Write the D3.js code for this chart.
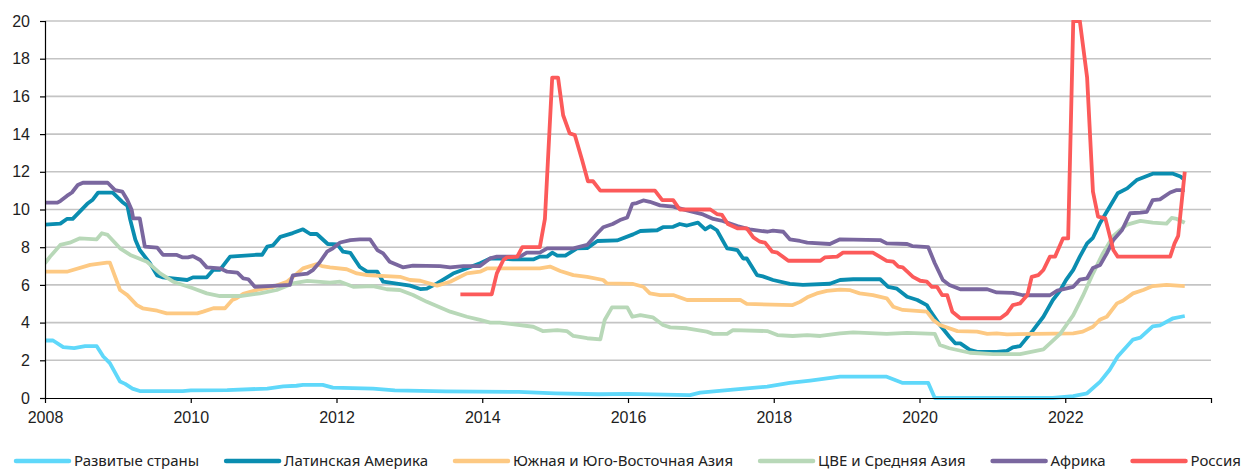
<!DOCTYPE html>
<html>
<head>
<meta charset="utf-8">
<script src="https://cdn.jsdelivr.net/npm/d3@7"></script>
<style>
  html, body { margin: 0; padding: 0; background: #fff; overflow: hidden; }
  svg { display: block; font-family: "Noto Sans", "DejaVu Sans", sans-serif; }
  .axis text { fill: #1e1e1e; font-size: 16px; }
  .axis path, .axis line { stroke: #000; stroke-width: 1.2; }
  .grid line { stroke: #c4c4c4; stroke-width: 1.6; }
  .legend text { fill: #222; font-size: 15px; }
</style>
</head>
<body>
<svg id="chart" width="1249" height="469"></svg>
<script>
// Key policy rates by region, % (decimal years on the time axis)
const seriesNames = ["Развитые страны", "Латинская Америка", "Южная и Юго-Восточная Азия",
                     "ЦВЕ и Средняя Азия", "Африка", "Россия"];
const seriesColors = ["#5fd8fa", "#0a8db0", "#fdc983", "#b8d8b8", "#7a679f", "#fc5a5a"];

const yTicks = [0, 2, 4, 6, 8, 10, 12, 14, 16, 18, 20];
const xTicks = [2008, 2010, 2012, 2014, 2016, 2018, 2020, 2022, 2024];
const xTickLabels = ["2008", "2010", "2012", "2014", "2016", "2018", "2020", "2022", ""];

const devYears = [2008.00,2008.11,2008.25,2008.40,2008.55,2008.71,2008.80,2008.89,2009.03,2009.10,2009.20,2009.30,2009.89,2010.00,2010.50,2011.05,2011.27,2011.45,2011.54,2011.81,2011.95,2012.50,2012.80,2013.50,2014.50,2015.00,2015.60,2016.00,2016.85,2016.99,2017.44,2017.91,2018.22,2018.50,2018.91,2019.55,2019.77,2020.12,2020.21,2021.83,2022.11,2022.30,2022.48,2022.61,2022.72,2022.93,2023.03,2023.20,2023.30,2023.48,2023.64];
const devValues = [3.05,3.05,2.7,2.65,2.75,2.75,2.2,1.85,0.87,0.75,0.5,0.37,0.37,0.4,0.42,0.5,0.62,0.65,0.7,0.7,0.55,0.5,0.4,0.35,0.32,0.25,0.2,0.22,0.15,0.28,0.45,0.6,0.8,0.92,1.13,1.13,0.8,0.8,0,0,0.1,0.25,0.87,1.5,2.2,3.1,3.2,3.8,3.85,4.23,4.35];

const latYears = [2008.00,2008.21,2008.30,2008.38,2008.58,2008.65,2008.73,2008.93,2009.06,2009.13,2009.17,2009.24,2009.30,2009.44,2009.54,2009.62,2009.95,2010.03,2010.22,2010.31,2010.40,2010.54,2010.91,2010.98,2011.05,2011.13,2011.23,2011.40,2011.54,2011.64,2011.73,2011.88,2012.01,2012.09,2012.19,2012.32,2012.42,2012.56,2012.64,2012.78,2013.01,2013.15,2013.24,2013.38,2013.60,2013.79,2013.97,2014.11,2014.24,2014.42,2014.70,2014.79,2014.89,2014.96,2015.03,2015.14,2015.30,2015.44,2015.58,2015.85,2016.07,2016.17,2016.40,2016.48,2016.62,2016.71,2016.81,2016.96,2017.06,2017.13,2017.22,2017.36,2017.43,2017.50,2017.58,2017.63,2017.77,2017.85,2017.99,2018.22,2018.40,2018.77,2018.91,2019.09,2019.46,2019.57,2019.69,2019.83,2019.97,2020.10,2020.14,2020.28,2020.41,2020.49,2020.56,2020.69,2020.79,2021.06,2021.20,2021.28,2021.38,2021.56,2021.70,2021.83,2021.93,2022.01,2022.11,2022.20,2022.30,2022.38,2022.48,2022.61,2022.72,2022.85,2022.98,2023.20,2023.48,2023.58,2023.64];
const latValues = [9.2,9.25,9.5,9.5,10.3,10.5,10.9,10.9,10.4,10.2,9.45,8.4,7.85,7.15,6.5,6.4,6.26,6.4,6.4,6.8,6.8,7.5,7.6,7.6,8.03,8.1,8.55,8.75,8.95,8.7,8.7,8.17,8.15,7.76,7.7,6.95,6.7,6.7,6.17,6.1,5.96,5.78,5.8,6.08,6.6,6.88,7.15,7.4,7.4,7.36,7.35,7.5,7.5,7.71,7.55,7.55,7.94,7.95,8.33,8.36,8.68,8.86,8.9,9.06,9.08,9.23,9.15,9.3,8.95,9.12,8.9,7.94,7.9,7.85,7.4,7.4,6.52,6.45,6.26,6.05,6.0,6.06,6.26,6.3,6.3,5.9,5.8,5.37,5.2,4.93,4.67,3.87,3.25,2.9,2.9,2.55,2.45,2.45,2.5,2.69,2.75,3.6,4.31,5.2,5.7,6.25,6.8,7.5,8.2,8.5,9.3,10.15,10.86,11.12,11.56,11.9,11.9,11.75,11.56];

const seaYears = [2008.00,2008.30,2008.62,2008.85,2008.89,2009.03,2009.13,2009.26,2009.34,2009.54,2009.67,2010.09,2010.17,2010.31,2010.47,2010.57,2010.63,2010.72,2010.91,2011.13,2011.32,2011.46,2011.54,2011.73,2011.80,2011.91,2012.14,2012.28,2012.42,2012.87,2013.01,2013.15,2013.38,2013.56,2013.79,2013.97,2014.07,2014.79,2014.93,2015.07,2015.25,2015.44,2015.66,2015.71,2016.07,2016.21,2016.30,2016.44,2016.62,2016.81,2017.54,2017.63,2018.26,2018.36,2018.46,2018.59,2018.73,2018.91,2019.05,2019.18,2019.36,2019.55,2019.64,2019.77,2020.10,2020.19,2020.28,2020.52,2020.79,2020.93,2021.06,2021.20,2022.11,2022.24,2022.38,2022.48,2022.57,2022.71,2022.79,2022.93,2023.07,2023.20,2023.39,2023.64];
const seaValues = [6.7,6.7,7.06,7.18,7.18,5.73,5.46,4.93,4.76,4.63,4.49,4.49,4.58,4.76,4.76,5.2,5.29,5.52,5.73,5.9,6.17,6.61,6.88,7.1,7.0,6.93,6.83,6.61,6.52,6.43,6.26,6.22,5.96,6.17,6.61,6.7,6.88,6.88,6.97,6.74,6.52,6.43,6.26,6.08,6.05,5.9,5.55,5.46,5.46,5.2,5.2,4.99,4.93,5.1,5.34,5.55,5.68,5.75,5.72,5.55,5.46,5.29,4.84,4.67,4.58,4.14,3.87,3.55,3.52,3.4,3.43,3.38,3.43,3.52,3.78,4.17,4.31,5.02,5.16,5.55,5.73,5.94,6.0,5.94];

const ceeYears = [2008.00,2008.07,2008.21,2008.34,2008.48,2008.71,2008.78,2008.86,2009.03,2009.17,2009.40,2009.58,2009.76,2010.03,2010.22,2010.40,2010.68,2010.95,2011.18,2011.40,2011.60,2011.91,2012.05,2012.23,2012.50,2012.69,2012.87,2013.05,2013.24,2013.56,2013.79,2013.97,2014.11,2014.24,2014.70,2014.83,2015.03,2015.16,2015.25,2015.44,2015.62,2015.68,2015.78,2015.99,2016.06,2016.17,2016.34,2016.48,2016.58,2016.81,2017.08,2017.17,2017.36,2017.44,2017.91,2018.05,2018.26,2018.46,2018.64,2018.91,2019.09,2019.55,2019.83,2020.21,2020.28,2020.41,2020.69,2021.01,2021.38,2021.70,2021.79,2021.93,2022.02,2022.11,2022.24,2022.38,2022.52,2022.66,2022.75,2022.85,2023.03,2023.20,2023.39,2023.46,2023.53,2023.64];
const ceeValues = [7.15,7.5,8.12,8.24,8.47,8.42,8.74,8.65,7.94,7.59,7.23,6.61,6.17,5.82,5.55,5.41,5.41,5.55,5.73,6.08,6.21,6.12,6.17,5.9,5.94,5.77,5.73,5.46,5.1,4.58,4.31,4.14,4.0,4.0,3.78,3.55,3.6,3.55,3.29,3.17,3.11,4.14,4.81,4.81,4.31,4.4,4.28,3.87,3.75,3.7,3.52,3.4,3.4,3.6,3.55,3.34,3.29,3.34,3.29,3.43,3.48,3.4,3.46,3.4,2.81,2.64,2.4,2.33,2.33,2.58,2.9,3.4,3.9,4.4,5.4,6.6,7.7,8.6,8.9,9.2,9.4,9.3,9.25,9.55,9.5,9.3];

const afrYears = [2008.00,2008.17,2008.21,2008.30,2008.37,2008.45,2008.52,2008.86,2008.96,2009.06,2009.13,2009.19,2009.21,2009.30,2009.37,2009.54,2009.62,2009.81,2009.89,2009.96,2010.03,2010.13,2010.22,2010.40,2010.50,2010.64,2010.72,2010.79,2010.88,2011.36,2011.40,2011.60,2011.68,2011.77,2011.87,2011.95,2012.05,2012.19,2012.32,2012.46,2012.56,2012.64,2012.73,2012.91,2013.05,2013.42,2013.56,2013.74,2013.97,2014.11,2014.20,2014.52,2014.61,2014.79,2014.89,2015.25,2015.44,2015.58,2015.66,2015.79,2015.89,2015.99,2016.06,2016.12,2016.21,2016.30,2016.44,2016.62,2016.81,2017.03,2017.17,2017.30,2017.50,2017.67,2017.91,2017.99,2018.13,2018.22,2018.36,2018.46,2018.77,2018.91,2019.46,2019.55,2019.83,2019.90,2020.12,2020.21,2020.32,2020.41,2020.56,2020.93,2021.06,2021.28,2021.42,2021.79,2021.89,2022.02,2022.11,2022.20,2022.30,2022.38,2022.48,2022.57,2022.66,2022.78,2022.89,2023.03,2023.12,2023.20,2023.30,2023.44,2023.53,2023.64];
const afrValues = [10.36,10.36,10.45,10.72,10.9,11.3,11.42,11.42,11.03,10.95,10.5,9.97,9.53,9.53,8.03,7.98,7.59,7.59,7.46,7.46,7.53,7.32,6.93,6.88,6.7,6.65,6.35,6.3,5.9,6.0,6.5,6.6,6.8,7.2,7.76,7.94,8.25,8.38,8.42,8.42,7.85,7.67,7.23,6.93,7.02,7.0,6.93,7.0,7.0,7.41,7.5,7.5,7.71,7.71,7.94,7.94,8.12,8.74,9.06,9.23,9.44,9.58,10.3,10.34,10.48,10.41,10.22,10.15,9.95,9.74,9.5,9.39,9.12,8.95,8.82,8.88,8.82,8.42,8.33,8.24,8.17,8.42,8.38,8.2,8.17,8.06,8.0,7.15,6.26,6.0,5.77,5.77,5.6,5.58,5.45,5.45,5.7,5.82,5.9,6.28,6.35,6.9,7.06,7.67,8.38,8.91,9.8,9.83,9.88,10.5,10.54,10.9,11.03,11.03];

const rusYears = [2013.70,2014.13,2014.20,2014.29,2014.34,2014.48,2014.55,2014.79,2014.86,2014.96,2015.04,2015.11,2015.20,2015.27,2015.37,2015.45,2015.52,2015.62,2016.37,2016.47,2016.62,2016.71,2017.13,2017.22,2017.29,2017.37,2017.50,2017.63,2017.72,2017.81,2017.88,2017.98,2018.05,2018.20,2018.64,2018.70,2018.87,2018.95,2019.36,2019.55,2019.64,2019.71,2019.77,2019.91,2020.01,2020.10,2020.17,2020.24,2020.31,2020.38,2020.45,2020.56,2021.11,2021.20,2021.28,2021.38,2021.48,2021.54,2021.63,2021.70,2021.79,2021.86,2021.97,2022.04,2022.11,2022.20,2022.30,2022.38,2022.45,2022.55,2022.66,2022.72,2023.44,2023.50,2023.55,2023.64];
const rusValues = [5.5,5.5,6.61,7.32,7.46,7.5,8.0,8.0,9.5,17.0,17.0,15.0,14.04,13.95,12.63,11.5,11.5,11.0,11.0,10.5,10.5,10.0,10.0,9.76,9.71,9.23,9.0,9.0,8.52,8.29,8.24,7.76,7.71,7.28,7.28,7.46,7.5,7.71,7.71,7.28,7.23,6.97,6.93,6.43,6.22,6.17,5.9,5.9,5.46,5.46,4.58,4.23,4.23,4.49,4.93,5.02,5.46,6.43,6.52,6.79,7.5,7.5,8.47,8.47,20,20,17.0,10.95,9.62,9.53,7.85,7.5,7.5,8.2,8.6,12.0];

const yearsBySeries = [devYears, latYears, seaYears, ceeYears, afrYears, rusYears];
const valuesBySeries = [devValues, latValues, seaValues, ceeValues, afrValues, rusValues];

const svg = d3.select("#chart");
const plot = { left: 45, right: 1211, top: 21, bottom: 398 };

const x = d3.scaleLinear().domain([2008, 2024]).range([plot.left, plot.right]);
const y = d3.scaleLinear().domain([0, 20]).range([plot.bottom, plot.top]);

// horizontal gridlines
svg.append("g").attr("class", "grid")
  .selectAll("line")
  .data(yTicks.filter(d => d > 0))
  .join("line")
  .attr("x1", plot.left).attr("x2", plot.right)
  .attr("y1", d => y(d)).attr("y2", d => y(d));

// clip so the peaks stay inside the plot
svg.append("defs").append("clipPath").attr("id", "plot-clip")
  .append("rect")
  .attr("x", plot.left).attr("y", plot.top - 1)
  .attr("width", plot.right - plot.left).attr("height", plot.bottom - plot.top + 3);

const line = d3.line()
  .x(d => x(d[0]))
  .y(d => y(d[1]))
  .curve(d3.curveLinear);

const lines = svg.append("g").attr("clip-path", "url(#plot-clip)");
seriesNames.forEach((name, i) => {
  const pts = d3.zip(yearsBySeries[i], valuesBySeries[i]);
  lines.append("path")
    .datum(pts)
    .attr("fill", "none")
    .attr("stroke", seriesColors[i])
    .attr("stroke-width", 3.8)
    .attr("stroke-linejoin", "round")
    .attr("stroke-linecap", "butt")
    .attr("d", line);
});

// axes
const xAxis = d3.axisBottom(x)
  .tickValues(xTicks)
  .tickFormat((d, i) => xTickLabels[i])
  .tickSize(5)
  .tickPadding(9);
svg.append("g").attr("class", "axis x")
  .attr("transform", `translate(0,${plot.bottom})`)
  .call(xAxis)
  .call(g => g.select(".domain").attr("d", `M${plot.left},0.5H${plot.right}`));

const yAxis = d3.axisLeft(y)
  .tickValues(yTicks)
  .tickFormat(d3.format("d"))
  .tickSize(5)
  .tickPadding(10);
svg.append("g").attr("class", "axis y")
  .attr("transform", `translate(${plot.left},0)`)
  .call(yAxis)
  .call(g => g.select(".domain").attr("d", `M0.5,${plot.top}V${plot.bottom}`));

// legend: swatch line followed by its label, items laid out left to right
const legend = svg.append("g").attr("class", "legend").attr("transform", "translate(16,461)");
let cursor = 0;
seriesNames.forEach((name, i) => {
  const item = legend.append("g").attr("transform", `translate(${cursor},0)`);
  item.append("line")
    .attr("x1", 0).attr("x2", 53)
    .attr("y1", 0).attr("y2", 0)
    .attr("stroke", seriesColors[i])
    .attr("stroke-width", 4.5)
    .attr("stroke-linecap", "round");
  const t = item.append("text")
    .attr("x", 58).attr("y", 0).attr("dy", "0.36em")
    .text(name);
  cursor += 58 + t.node().getComputedTextLength() + 27;
});
</script>
</body>
</html>
